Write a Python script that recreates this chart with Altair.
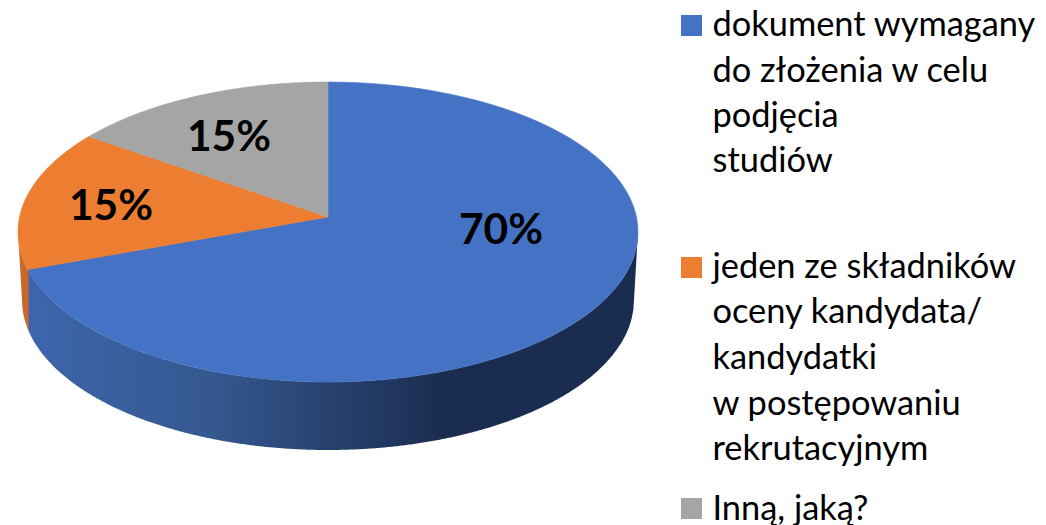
import math
import altair as alt
import pandas as pd

# --- chart content ---
categories = ["dokument wymagany", "jeden ze składników", "Inną, jaką?"]
shares = [70, 15, 15]
share_labels = ["70%", "15%", "15%"]
colors = ["#4472C4", "#ED7D31", "#A5A5A5"]
legend_lines = [
    ["dokument wymagany", "do złożenia w celu", "podjęcia", "studiów"],
    ["jeden ze składników", "oceny kandydata/", "kandydatki", "w postępowaniu", "rekrutacyjnym"],
    ["Inną, jaką?"],
]

# --- layout (image pixels) ---
CX, CY, RX, RY = 328.0, 232.0, 310.0, 150.0      # top rim
APEX = (328.0, 217.0)                             # perspective centre of the slices
BX, BY, BRX, BRY = 328.0, 300.0, 306.0, 150.0     # lower rim
TILT = 3.5                                        # degrees the view shifts slice edges
label_pos = [(501, 231), (229, 138), (111, 207)]
legend_baselines = [[36, 82, 127, 172], [278, 323, 369, 415, 460], [520]]
swatch_tops = [15, 257, 498]
SWATCH = 21
SWATCH_X = 681
TEXT_X = 712.5
LEGEND_SIZE = 34.4
LABEL_SIZE = 42.5
FONT = "Lato"

xs = alt.X("x:Q", scale=alt.Scale(domain=[8, 1038], nice=False, zero=False), axis=None)
ys = alt.Y("y:Q", scale=alt.Scale(domain=[533, 8], nice=False, zero=False), axis=None)


def rim(t):
    r = math.radians(t)
    return CX + RX * math.sin(r), CY - RY * math.cos(r)


def sector(t0, t1, n=90):
    pts = [APEX]
    for i in range(n + 1):
        pts.append(rim(t0 + (t1 - t0) * i / n))
    return pd.DataFrame([{"x": p[0], "y": p[1], "i": k} for k, p in enumerate(pts)])


# slice edges along the rim
cum = [0.0]
for s in shares:
    cum.append(cum[-1] + s * 3.6)
edges = [0.0] + [c + TILT for c in cum[1:-1]] + [360.0]

slices = []
for k in range(len(shares)):
    slices.append(
        alt.Chart(sector(edges[k], edges[k + 1]))
        .mark_line(fill=colors[k], stroke=colors[k], strokeWidth=0.6, interpolate="linear-closed")
        .encode(x=xs, y=ys, order="i:Q")
    )


def wall_rows(x0, x1, n):
    rows = []
    for i in range(n + 1):
        x = x0 + (x1 - x0) * i / n
        top = CY + RY * math.sqrt(max(0, 1 - ((x - CX) / RX) ** 2))
        u = (x - BX) / BRX
        if abs(u) <= 1:
            low = BY + BRY * math.sqrt(1 - u * u)
        else:
            # outside the lower rim: silhouette runs from the top rim edge to the lower one
            edge_top = CX + math.copysign(RX, u)
            edge_low = BX + math.copysign(BRX, u)
            low = CY + (BY - CY) * (x - edge_top) / (edge_low - edge_top)
        rows.append({"x": x, "y": top, "y2": max(low, top)})
    return pd.DataFrame(rows)


blue_wall = (
    alt.Chart(wall_rows(28, 638, 400))
    .mark_area(
        color=alt.Gradient(
            gradient="linear", x1=0, x2=1, y1=0, y2=0,
            stops=[
                alt.GradientStop(color="#3E65AD", offset=0),
                alt.GradientStop(color="#35588F", offset=0.3),
                alt.GradientStop(color="#1A2D50", offset=0.68),
                alt.GradientStop(color="#1A2D50", offset=1),
            ],
        )
    )
    .encode(x=xs, y=ys, y2="y2:Q")
)
orange_wall = (
    alt.Chart(wall_rows(18, 28.5, 30))
    .mark_area(color="#C9692A")
    .encode(x=xs, y=ys, y2="y2:Q")
)

labels_df = pd.DataFrame(
    [{"x": p[0], "y": p[1], "t": t} for p, t in zip(label_pos, share_labels)]
)
labels = (
    alt.Chart(labels_df)
    .mark_text(font=FONT, fontWeight="bold", fontSize=LABEL_SIZE, color="#000000",
               align="center", baseline="middle")
    .encode(x=xs, y=ys, text="t:N")
)

legend_rows = []
for lines, bases in zip(legend_lines, legend_baselines):
    for line, b in zip(lines, bases):
        legend_rows.append({"x": TEXT_X, "y": b, "t": line})
legend_text = (
    alt.Chart(pd.DataFrame(legend_rows))
    .mark_text(font=FONT, fontSize=LEGEND_SIZE, color="#000000", align="left", baseline="alphabetic")
    .encode(x=xs, y=ys, text="t:N")
)

swatch_df = pd.DataFrame(
    [{"x": SWATCH_X, "x2": SWATCH_X + SWATCH, "y": t, "y2": t + SWATCH, "c": c, "cat": n}
     for t, c, n in zip(swatch_tops, colors, categories)]
)
swatches = (
    alt.Chart(swatch_df)
    .mark_rect()
    .encode(
        x=xs, x2="x2:Q", y=ys, y2="y2:Q",
        color=alt.Color("c:N", scale=None, legend=None),
    )
)

chart = (
    alt.layer(blue_wall, orange_wall, *slices, labels, swatches, legend_text)
    .properties(width=1030, height=525, padding=0, autosize=alt.AutoSizeParams(type="none"))
    .configure_view(stroke=None)
)
chart.save("out.html", embed_options={"renderer": "svg", "actions": False})
